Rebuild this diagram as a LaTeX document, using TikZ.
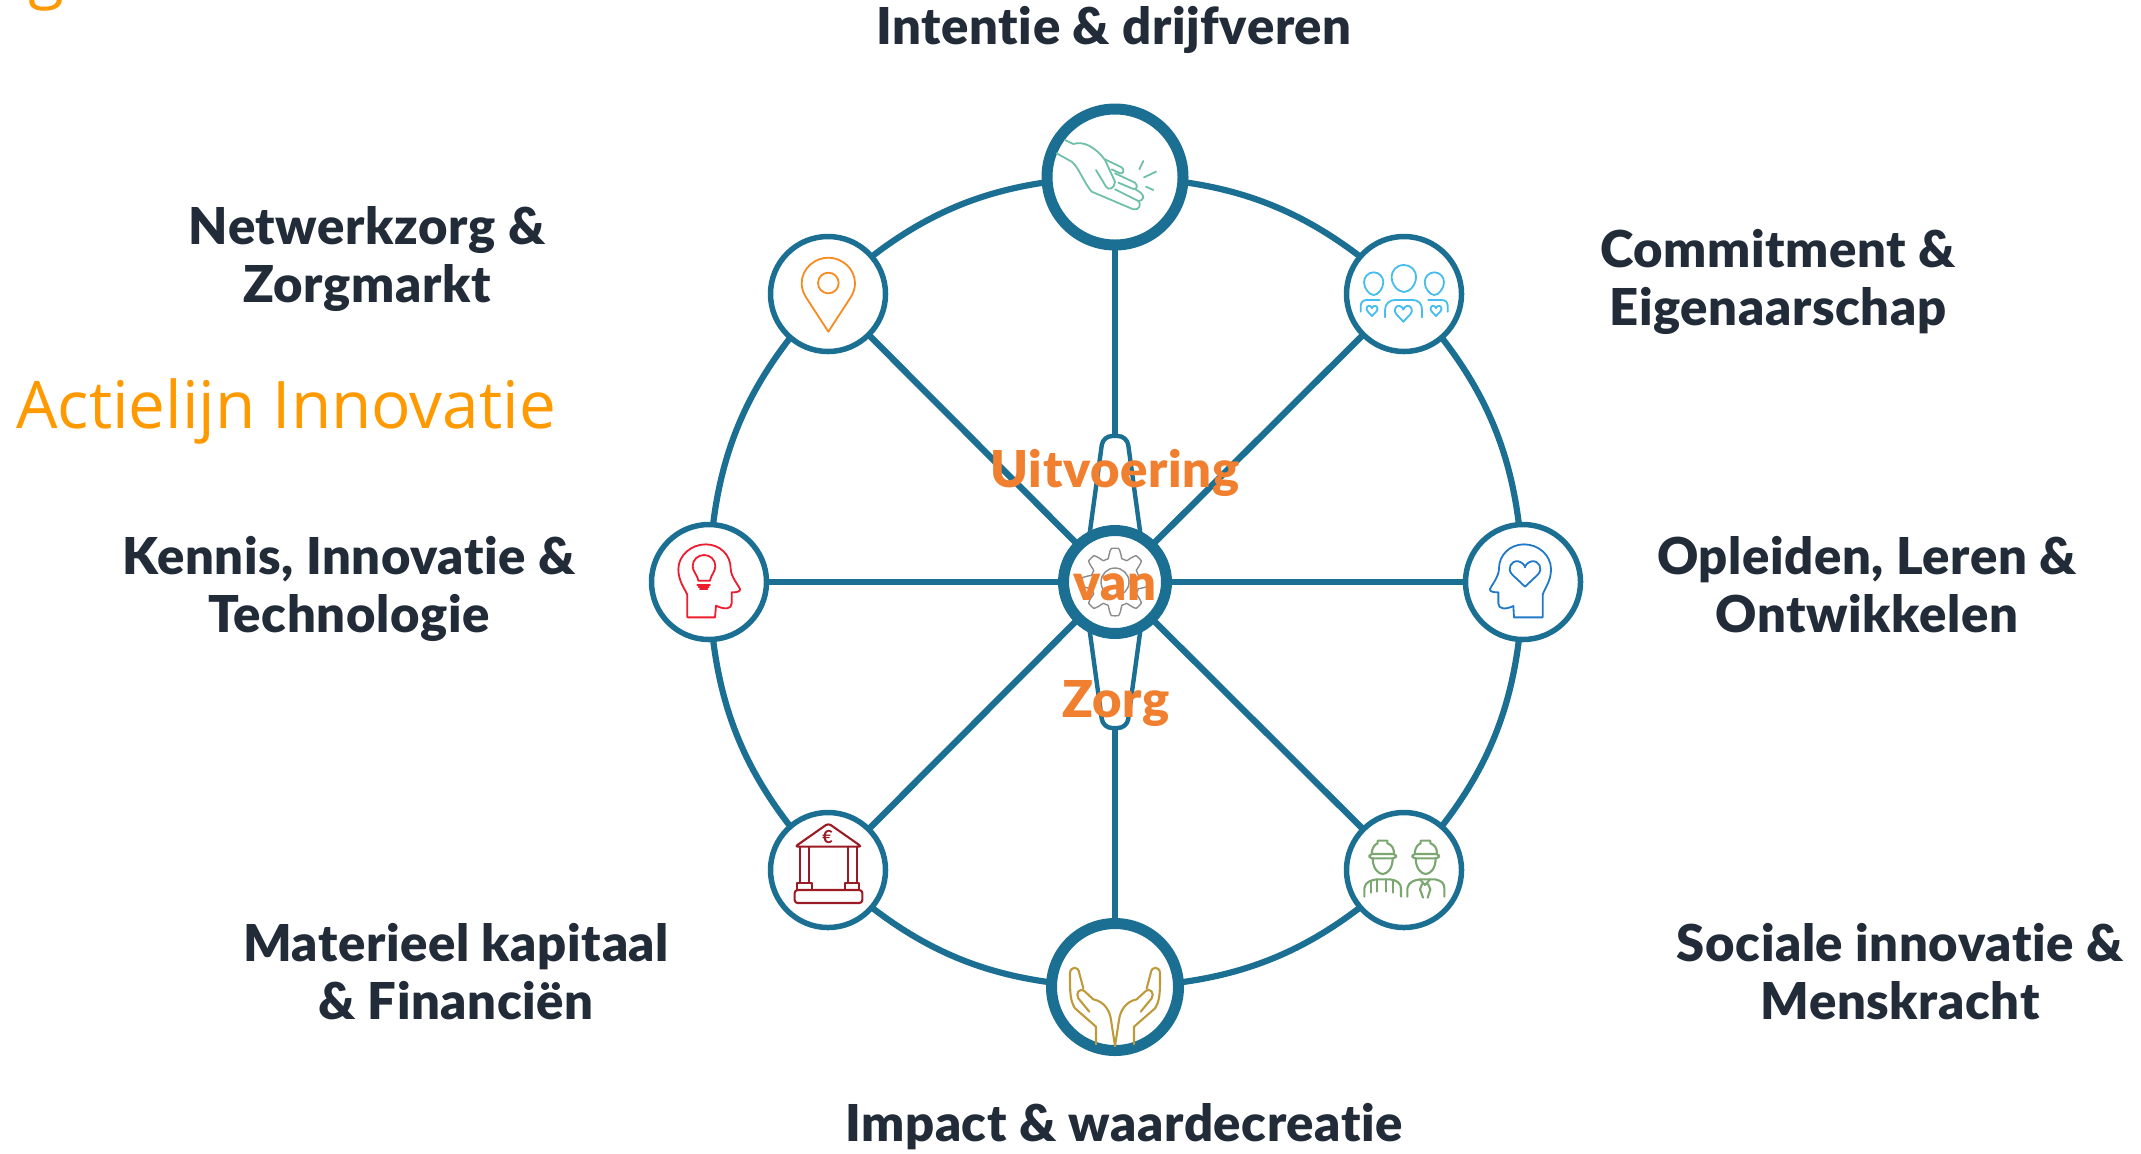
\documentclass[tikz,border=0pt]{standalone}
\usepackage{fontspec}
\setmainfont{Lato}
\newfontfamily\lblfont[Ligatures=NoCommon,LetterSpace=1.2]{Lato Black}
\newfontfamily\actfont{Open Sans}
\usetikzlibrary{backgrounds}
\definecolor{teal}{HTML}{1A6F93}
\definecolor{ink}{HTML}{222B38}
\definecolor{orangetxt}{HTML}{F07F30}
\definecolor{actie}{HTML}{FF9900}
\definecolor{handc}{HTML}{6FBFA9}
\definecolor{peoplec}{HTML}{45BDEE}
\definecolor{headc}{HTML}{1F78C8}
\definecolor{workc}{HTML}{7BA66F}
\definecolor{goldc}{HTML}{BE9A3B}
\definecolor{bankc}{HTML}{9B1B25}
\definecolor{redc}{HTML}{EE1C2E}
\definecolor{pinc}{HTML}{F68B1F}
\definecolor{gearc}{HTML}{8C8C8C}
\tikzset{
  thinring/.style={circle,draw=teal,fill=white,line width=2.75pt,minimum size=57.5pt,inner sep=0pt},
  thickring/.style={circle,draw=teal,fill=white,line width=5.5pt,inner sep=0pt},
  spoke/.style={draw=teal,line width=3.2pt},
  rim/.style={draw=teal,line width=3.1pt},
  lens/.style={draw=teal,fill=white,line width=2.2pt,rounded corners=4.5pt},
  lbl/.style={text=ink,font=\lblfont\fontsize{25.4}{29}\selectfont,align=center,inner sep=0pt},
  mid/.style={text=orangetxt,font=\lblfont\fontsize{25.4}{29}\selectfont,anchor=base,inner sep=0pt},
  act/.style={text=actie,font=\actfont\fontsize{32.8}{38}\selectfont,anchor=base west,inner sep=0pt},
  icon/.style={line width=0.9pt,line cap=round,line join=round},
  zoomed/.style={x=0.166667pt,y=-0.166667pt},
  heartpic/.pic={\draw (0,1) -- (-0.85,0.1) .. controls (-1.25,-0.35) and (-0.9,-1) .. (-0.45,-0.9) .. controls (-0.2,-0.85) and (0,-0.6) .. (0,-0.45) .. controls (0,-0.6) and (0.2,-0.85) .. (0.45,-0.9) .. controls (0.9,-1) and (1.25,-0.35) .. (0.85,0.1) -- cycle;},
  hatpic/.pic={
    \draw (-33,160) .. controls (-31,138) and (-20,132) .. (-15,130) -- (-15,122) -- (14,122) -- (14,130) .. controls (27,134) and (34,145) .. (34,160);
    \draw[rounded corners=1.5pt] (-40,162) -- (40,162) -- (40,175) -- (-40,175) -- cycle;
    \draw (-30,175) .. controls (-30,205) and (-13,222) .. (0,222) .. controls (14,222) and (30,205) .. (30,175);
  },
  handpic/.pic={
    \draw (-57,403) -- (-57,350) -- (-120,295) .. controls (-135,270) and (-135,250) .. (-135,190) .. controls (-135,170) and (-110,165) .. (-107,190) -- (-95,235);
    \draw (-77,305) -- (-110,265) .. controls (-120,250) and (-105,230) .. (-90,245) -- (-65,268) .. controls (-30,275) and (-15,305) .. (-12,330) -- (0,408);
  },
}
\begin{document}
\begin{tikzpicture}[x=0.5pt,y=-0.5pt]
\useasboundingbox (0,0) rectangle (2141,1153);
% nodes
\node[thickring,minimum size=51.5pt] (hub) at (1115,582) {};
\node[thickring,minimum size=68pt] (top) at (1115,177) {};
\node[thickring,minimum size=63.5pt] (bot) at (1115,987) {};
\node[thinring] (tr) at (1404,294) {};
\node[thinring] (rr) at (1523,582) {};
\node[thinring] (br) at (1404,870) {};
\node[thinring] (bl) at (828,870) {};
\node[thinring] (ll) at (709,582) {};
\node[thinring] (tl) at (828,294) {};
\coordinate (lensT) at (1115,436);
\coordinate (lensB) at (1115,728);
% connectors behind the nodes
\begin{scope}[on background layer]
  \draw[rim] (top.center) to[bend left=21] (tr.center);
  \draw[rim] (tr.center) to[bend left=21] (rr.center);
  \draw[rim] (rr.center) to[bend left=21] (br.center);
  \draw[rim] (br.center) to[bend left=21] (bot.center);
  \draw[rim] (bot.center) to[bend left=21] (bl.center);
  \draw[rim] (bl.center) to[bend left=21] (ll.center);
  \draw[rim] (ll.center) to[bend left=21] (tl.center);
  \draw[rim] (tl.center) to[bend left=21] (top.center);
  \draw[spoke] (hub.center) -- (tr.center);
  \draw[spoke] (hub.center) -- (rr.center);
  \draw[spoke] (hub.center) -- (br.center);
  \draw[spoke] (hub.center) -- (bl.center);
  \draw[spoke] (hub.center) -- (ll.center);
  \draw[spoke] (hub.center) -- (tl.center);
  \draw[spoke] (top.center) -- (lensT);
  \draw[spoke] (bot.center) -- (lensB);
  \draw[lens] (1086,560) -- (1103,436) -- (1127,436) -- (1144,560);
  \draw[lens] (1086,604) -- (1103,728) -- (1127,728) -- (1144,604);
\end{scope}
% gear
\begin{scope}[shift={(1115,582)}]
  \draw[gearc,line width=0.7pt] plot[domain=0:360,samples=193,smooth] (\x:{29+4.8*max(-1,min(1,1.6*cos(8*\x)))});
  \draw[gearc,line width=0.7pt] (0,0) circle (7pt);
\end{scope}
% hand
\begin{scope}[shift={(1020,90)},zoomed,icon,draw=handc]
  \draw (135,150) -- (160,162) .. controls (190,152) and (225,170) .. (255,210) -- (285,275) .. controls (285,295) and (265,303) .. (258,290) -- (228,240);
  \draw (110,190) -- (155,215) .. controls (175,230) and (190,275) .. (215,305) -- (340,358) .. controls (358,362) and (365,342) .. (355,333) -- (285,298);
  \draw (255,208) -- (305,232) .. controls (315,240) and (310,252) .. (300,250) -- (275,238);
  \draw (285,250) -- (345,278) .. controls (355,288) and (350,298) .. (340,297) -- (295,278);
  \draw (345,297) -- (362,308) .. controls (375,318) and (370,333) .. (355,333);
  \draw (358,238) -- (370,213);
  \draw (372,262) -- (408,245);
  \draw (378,290) -- (400,300);
\end{scope}
% people
\begin{scope}[shift={(1330,220)},zoomed,icon,draw=peoplec]
  \draw (222,135) .. controls (200,135) and (185,150) .. (185,172) .. controls (185,195) and (205,216) .. (222,216) .. controls (238,216) and (258,195) .. (258,172) .. controls (258,150) and (243,135) .. (222,135) -- cycle;
  \draw (131,157) .. controls (115,157) and (102,170) .. (102,187) .. controls (102,205) and (118,225) .. (131,225) .. controls (144,225) and (160,205) .. (160,187) .. controls (160,170) and (147,157) .. (131,157) -- cycle;
  \draw (313,157) .. controls (297,157) and (284,170) .. (284,187) .. controls (284,205) and (300,225) .. (313,225) .. controls (326,225) and (342,205) .. (342,187) .. controls (342,170) and (329,157) .. (313,157) -- cycle;
  \draw (92,275) -- (92,255) .. controls (95,245) and (100,240) .. (110,240) -- (150,240);
  \draw (295,240) -- (335,240) .. controls (345,240) and (353,245) .. (353,258) -- (353,275);
  \draw (165,292) -- (165,270) .. controls (165,250) and (180,240) .. (195,240) -- (248,240) .. controls (265,240) and (276,250) .. (276,270) -- (276,292);
  \pic[scale=25] at (220,280) {heartpic};
  \pic[scale=16] at (126,272) {heartpic};
  \pic[scale=16] at (318,272) {heartpic};
\end{scope}
% head with heart
\begin{scope}[shift={(1450,510)},zoomed,icon,draw=headc]
  \draw (192,322) -- (278,322) -- (278,255) .. controls (283,235) and (303,215) .. (303,178) .. controls (303,135) and (265,103) .. (222,103) .. controls (180,103) and (147,135) .. (147,175) .. controls (147,200) and (125,225) .. (120,237) .. controls (118,245) and (130,247) .. (145,247) -- (145,280) .. controls (145,297) and (165,300) .. (190,288) -- cycle;
  \pic[xscale=45,yscale=40] at (225,190) {heartpic};
\end{scope}
% workers
\begin{scope}[shift={(1330,800)},zoomed,icon,draw=workc,line width=1.05pt]
  \pic at (158,0) {hatpic};
  \pic at (287,0) {hatpic};
  \draw (103,290) -- (103,265) .. controls (105,245) and (125,240) .. (140,238) -- (180,238) .. controls (200,240) and (213,250) .. (213,265) -- (213,290);
  \draw (124,245) -- (124,278);
  \draw (142,238) -- (142,275);
  \draw (168,238) -- (168,275);
  \draw (190,242) -- (190,278);
  \draw (232,290) -- (232,265) .. controls (235,245) and (255,240) .. (270,238) -- (315,238) .. controls (335,242) and (343,250) .. (343,265) -- (343,290);
  \draw (270,238) -- (285,255) -- (300,238);
  \draw (276,252) -- (270,268) -- (279,293);
  \draw (294,252) -- (301,268) -- (293,293);
\end{scope}
% open hands
\begin{scope}[shift={(1040,910)},zoomed,icon,draw=goldc,line width=1.05pt]
  \pic at (225,0) {handpic};
  \pic[xscale=-1] at (225,0) {handpic};
\end{scope}
% bank
\begin{scope}[shift={(760,800)},zoomed,icon,draw=bankc,line width=1.05pt]
  \draw[rounded corners=1.5pt] (205,70) -- (105,140) -- (305,140) -- cycle;
  \draw (120,142) -- (120,248);
  \draw (148,142) -- (148,248);
  \draw (263,142) -- (263,248);
  \draw (290,142) -- (290,248);
  \draw (112,248) rectangle (157,270);
  \draw (254,248) rectangle (298,270);
  \draw[rounded corners=1.5pt] (104,270) rectangle (307,309);
  \node[text=bankc,font=\bfseries\fontsize{9}{10}\selectfont,inner sep=0pt] (euro) at (203,110) {€};
\end{scope}
% bulb head
\begin{scope}[shift={(640,510)},zoomed,icon,draw=redc]
  \draw (225,322) -- (142,322) -- (142,255) .. controls (137,240) and (115,215) .. (115,178) .. controls (115,135) and (155,103) .. (197,103) .. controls (240,103) and (272,135) .. (272,175) .. controls (272,200) and (295,225) .. (300,237) .. controls (302,245) and (290,247) .. (275,247) -- (275,280) .. controls (275,297) and (255,300) .. (228,287) -- cycle;
  \draw (175,212) .. controls (170,190) and (158,185) .. (158,168) .. controls (158,148) and (175,135) .. (192,135) .. controls (210,135) and (226,148) .. (226,168) .. controls (226,185) and (215,190) .. (210,212) -- cycle;
  \draw (172,224) -- (210,224);
  \draw (176,231) -- (206,231);
  \draw (180,238) -- (202,238);
\end{scope}
% pin
\begin{scope}[shift={(760,220)},zoomed,icon,draw=pinc]
  \draw (205,335) -- (140,235) .. controls (130,220) and (125,205) .. (125,190) .. controls (125,145) and (165,113) .. (205,113) .. controls (245,113) and (285,145) .. (285,190) .. controls (285,205) and (280,220) .. (270,235) -- cycle;
  \draw (205,189) circle (31 and 31);
\end{scope}
% labels
\node[lbl,anchor=base] (t1) at (1114,44) {Intentie \& drijfveren};
\node[lbl] (t2) at (367,259) {Netwerkzorg \&\\Zorgmarkt};
\node[lbl] (t3) at (1778,282) {Commitment \&\\Eigenaarschap};
\node[lbl] (t4) at (1867,585) {Opleiden, Leren \&\\Ontwikkelen};
\node[lbl] (t5) at (1900,972) {Sociale innovatie \&\\Menskracht};
\node[lbl,anchor=base] (t6) at (1124,1141) {Impact \& waardecreatie};
\node[lbl] (t7) at (456,972) {Materieel kapitaal\\\& Financiën};
\node[lbl] (t8) at (349,589) {Kennis, Innovatie \&\\Technologie};
\node[act] (a1) at (16,428) {Actielijn Innovatie};
\node[act] (a2) at (28,-5) {g};
\node[mid] (m1) at (1115,487) {Uitvoering};
\node[mid] (m2) at (1115,600) {van};
\node[mid] (m3) at (1116,717) {Zorg};
\end{tikzpicture}
\end{document}
